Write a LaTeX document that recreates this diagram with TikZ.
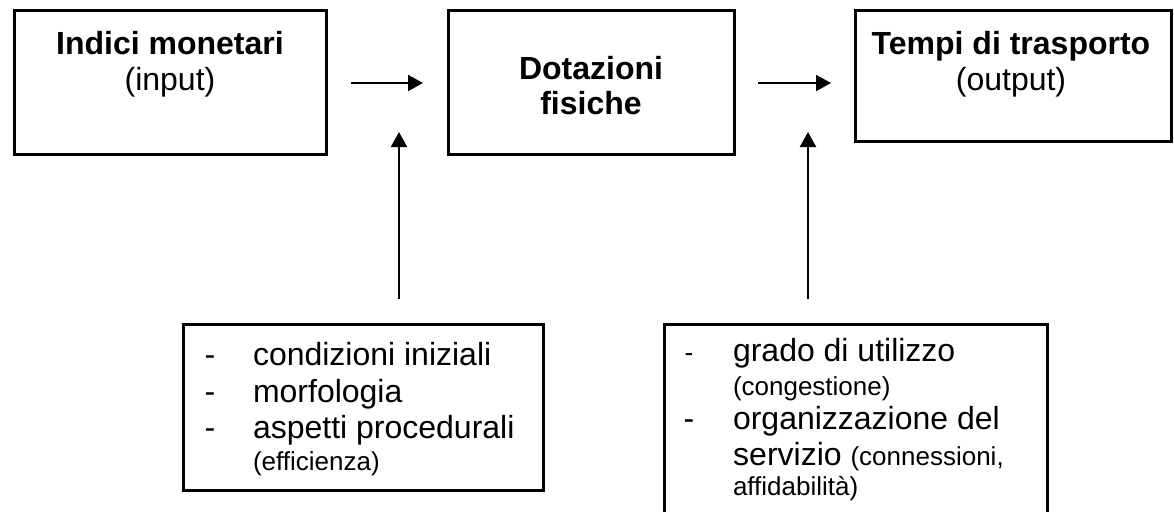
\documentclass[tikz,border=0pt]{standalone}
\usepackage{fontspec}
\setmainfont{Liberation Sans}
\usetikzlibrary{arrows.meta}
\begin{document}
\begin{tikzpicture}[x=1pt,y=-1pt,
  box/.style={draw, line width=3pt, inner sep=0pt, outer sep=0pt},
  conn/.style={line width=2pt, -{Triangle[length=15pt,width=16pt]}},
  big/.style={font=\fontsize{32}{36}\selectfont, inner sep=0pt, outer sep=0pt},
  bigb/.style={font=\fontsize{32}{36}\selectfont\bfseries, inner sep=0pt, outer sep=0pt},
  small/.style={font=\fontsize{26}{30}\selectfont, inner sep=0pt, outer sep=0pt}]
\clip (0,0) rectangle (1174,511);
\fill[white] (0,0) rectangle (1174,511);

% top boxes
\node[box, minimum width=312pt, minimum height=143pt] (b1) at (170,82.5) {};
\node[box, minimum width=286pt, minimum height=143pt] (b2) at (591,82.5) {};
\node[box, minimum width=316pt, minimum height=130pt] (b3) at (1013,76) {};

\node[bigb, anchor=base] (t1a) at (170,55) {Indici monetari};
\node[big, anchor=base] (t1b) at (170,90) {(input)};
\node[bigb, anchor=base] (t2a) at (591,79) {Dotazioni};
\node[bigb, anchor=base] (t2b) at (591,114) {fisiche};
\node[bigb, anchor=base] (t3a) at (1011,55) {Tempi di trasporto};
\node[big, anchor=base] (t3b) at (1011,90) {(output)};

% bottom boxes
\node[box, minimum width=360pt, minimum height=166pt] (b4) at (363,407) {};
\node[box, minimum width=383pt, minimum height=200pt] (b5) at (855.5,424) {};

% left list
\node[big, anchor=base] (d1) at (210,365) {-};
\node[big, anchor=base] (d2) at (210,402) {-};
\node[big, anchor=base] (d3) at (210,438) {-};
\node[big, anchor=base west] (l1) at (253,365) {condizioni iniziali};
\node[big, anchor=base west] (l2) at (253,402) {morfologia};
\node[big, anchor=base west] (l3) at (253,438) {aspetti procedurali};
\node[small, anchor=base west] (l4) at (253,470) {(efficienza)};

% right list
\node[small, anchor=base] (d4) at (689,361) {-};
\node[big, anchor=base] (d5) at (689,429) {-};
\node[big, anchor=base west] (r1) at (733,361) {grado di utilizzo};
\node[small, anchor=base west] (r2) at (733,395) {(congestione)};
\node[big, anchor=base west] (r3) at (733,429) {organizzazione del};
\node[anchor=base west, inner sep=0pt] (r4) at (733,465) {\fontsize{32}{36}\selectfont servizio \fontsize{26}{30}\selectfont(connessioni,};
\node[small, anchor=base west] (r5) at (733,495) {affidabilità)};

% connectors
\coordinate (a1s) at (351,83);
\coordinate (a1e) at (423,83);
\coordinate (a2s) at (758,83);
\coordinate (a2e) at (831,83);
\coordinate (v1s) at (399,299);
\coordinate (v1e) at (399,132);
\coordinate (v2s) at (808,299);
\coordinate (v2e) at (808,132);
\draw[conn] (a1s) -- (a1e);
\draw[conn] (a2s) -- (a2e);
\draw[conn] (v1s) -- (v1e);
\draw[conn] (v2s) -- (v2e);
\end{tikzpicture}
\end{document}
